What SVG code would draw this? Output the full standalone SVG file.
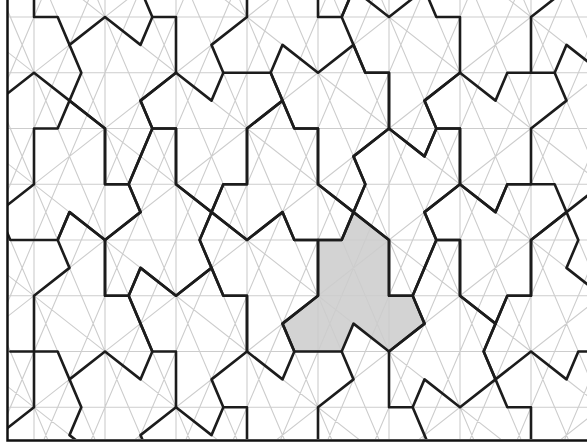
<svg xmlns="http://www.w3.org/2000/svg" width="587" height="447" viewBox="0 0 587 447">
<style>
.g{stroke:#cdcdcd;stroke-width:1.1;fill:none;vector-effect:non-scaling-stroke}
.b{stroke:#1c1c1c;stroke-width:2.6;fill:none;stroke-linejoin:round;stroke-linecap:round;vector-effect:non-scaling-stroke}
</style>
<defs><clipPath id="clip"><rect x="8" y="0" width="579" height="439"/></clipPath></defs>
<rect width="587" height="447" fill="#fff"/>
<g clip-path="url(#clip)">
<g transform="matrix(11.8333 0 0 27.875 34 17)">
<polygon id="shaded-fill" points="27,7 30,8 30,10 32,10 33,11 30,12 27,11 26,12 22,12 21,11 24,10 24,8 26,8" fill="#d3d3d3"/>
<g id="grid">
<path class="g" d="M-6,-2H50M-6,0H50M-6,2H50M-6,4H50M-6,6H50M-6,8H50M-6,10H50M-6,12H50M-6,14H50M-6,16H50
M0,-4V18M6,-4V18M12,-4V18M18,-4V18M24,-4V18M30,-4V18M36,-4V18M42,-4V18M48,-4V18
M-6,-20L48,-2M-6,-16L48,2M-6,-12L48,6M-6,-8L48,10M-6,-4L48,14M-6,0L48,18M-6,4L48,22M-6,8L48,26M-6,12L48,30M-6,16L48,34M-6,20L48,38
M-6,-4L48,-22M-6,0L48,-18M-6,4L48,-14M-6,8L48,-10M-6,12L48,-6M-6,16L48,-2M-6,20L48,2M-6,24L48,6M-6,28L48,10M-6,32L48,14M-6,36L48,18M-6,40L48,22M-6,44L48,26M-6,48L48,30
M-6,-56L48,-2M-6,-52L48,2M-6,-48L48,6M-6,-44L48,10M-6,-40L48,14M-6,-36L48,18M-6,-32L48,22M-6,-28L48,26M-6,-24L48,30M-6,-20L48,34M-6,-16L48,38M-6,-12L48,42M-6,-8L48,46M-6,-4L48,50M-6,0L48,54M-6,4L48,58M-6,8L48,62M-6,12L48,66M-6,16L48,70
M-6,-2L48,-56M-6,2L48,-52M-6,6L48,-48M-6,10L48,-44M-6,14L48,-40M-6,18L48,-36M-6,22L48,-32M-6,26L48,-28M-6,30L48,-24M-6,34L48,-20M-6,38L48,-16M-6,42L48,-12M-6,46L48,-8M-6,50L48,-4M-6,54L48,0M-6,58L48,4M-6,62L48,8M-6,66L48,12M-6,70L48,16"/>
</g>
<g id="tiles">
<polygon id="hat-shaded" class="b" points="27,7 30,8 30,10 32,10 33,11 30,12 27,11 26,12 22,12 21,11 24,10 24,8 26,8"/>
<polygon id="hat1" class="b" points="3,1 6,0 9,1 10,0 12,0 12,2 9,3 10,4 9,5 8,6 6,6 6,4 3,3 4,2"/>
<polygon id="hat2" class="b" points="0,4 2,4 3,3 6,4 6,6 8,6 9,7 6,8 3,7 2,8 -2,8 -3,7 0,6"/>
<polygon id="hat3" class="b" points="12,4 12,6 15,7 14,8 15,9 12,10 9,9 8,10 6,10 6,8 9,7 8,6 9,5 10,4"/>
<polygon id="hat4" class="b" points="15,7 18,8 21,7 22,8 24,8 24,10 21,11 22,12 21,13 18,12 18,10 16,10 15,9 14,8"/>
<polygon id="hat5" class="b" points="9,9 12,10 15,9 16,10 18,10 18,12 15,13 16,14 15,15 12,14 12,12 10,12 9,11 8,10"/>
<polygon id="hat6" class="b" points="12,2 15,3 16,2 20,2 21,3 18,4 18,6 16,6 15,7 12,6 12,4 10,4 9,3"/>
<polygon id="hat7" class="b" points="24,4 24,6 27,7 26,8 24,8 22,8 21,7 18,8 15,7 16,6 18,6 18,4 21,3 22,4"/>
<polygon id="hat8" class="b" points="24,2 27,1 28,2 30,2 30,4 27,5 28,6 27,7 24,6 24,4 22,4 21,3 20,2 21,1"/>
<polygon id="hat9" class="b" points="30,0 33,-1 34,0 36,0 36,2 33,3 34,4 33,5 30,4 30,2 28,2 27,1 26,0 27,-1"/>
<polygon id="hat10" class="b" points="42,4 45,3 44,2 42,2 40,2 39,3 36,2 33,3 34,4 36,4 36,6 39,7 40,6 42,6"/>
<polygon id="hat11" class="b" points="27,5 30,4 33,5 34,4 36,4 36,6 33,7 34,8 33,9 32,10 30,10 30,8 27,7 28,6"/>
<polygon id="hat12" class="b" points="42,8 45,7 44,6 42,6 40,6 39,7 36,6 33,7 34,8 36,8 36,10 39,11 40,10 42,10"/>
<polygon id="hat13" class="b" points="36,10 36,8 34,8 33,9 32,10 33,11 30,12 30,14 32,14 33,13 36,14 39,13 38,12 39,11"/>
<polygon id="hat14" class="b" points="6,12 9,13 10,12 9,11 8,10 6,10 6,8 3,7 2,8 3,9 0,10 0,12 2,12 3,13"/>
<polygon id="hat15" class="b" points="42,12 39,13 38,12 39,11 40,10 42,10 42,8 45,7 46,8 45,9 48,10 48,12 46,12 45,13"/>
<path id="edge-tiles" class="b" d="M0,-2V0H2L3,1M10,0L9,-1L8,-2M15,1L16,2M15,1L18,0V-2M24,-2V0H26L27,-1M42,2V0L45,-1M44,2L45,1L48,2M45,7L48,6M-3,3L0,2L3,3M-2,12H0M0,12V14L-3,15M3,13L4,14L3,15L6,16M12,14L9,15L10,16M16,14H18V16M26,12L27,13L24,14V16M32,14L33,15L34,16M39,13L40,14H42V16"/>
</g>
</g>
</g>
<g id="frame" fill="none" stroke="#111" stroke-width="2.5">
<path d="M7.5,0V440.5H587"/>
</g>
</svg>
